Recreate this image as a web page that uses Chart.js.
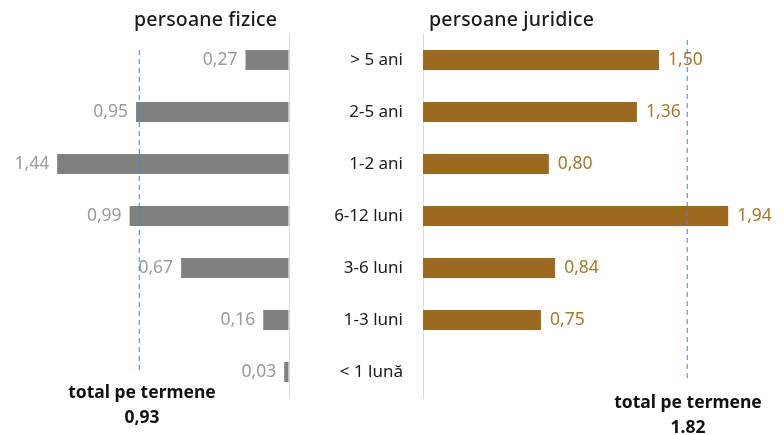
<!DOCTYPE html>
<html>
<head>
<meta charset="utf-8">
<script src="https://cdn.jsdelivr.net/npm/chart.js@4.4.3/dist/chart.umd.min.js"></script>
<style>
  html, body { margin: 0; padding: 0; background: #fff; }
  #wrap { position: relative; width: 784px; height: 435px; font-family: "Noto Sans", sans-serif; }
  #left { position: absolute; left: 0; top: 0; width: 290px; height: 435px; }
  #right { position: absolute; left: 290px; top: 0; width: 494px; height: 435px; }
  .t { position: absolute; color: #1a1a1a; white-space: nowrap; }
  .head { font-size: 19.5px; top: 5px; letter-spacing: 0.2px; font-weight: 500; }
  .tot { font-size: 17.5px; font-weight: bold; text-align: center; line-height: 25px; color: #111; }
</style>
</head>
<body>
<div id="wrap">
  <canvas id="left" width="290" height="435"></canvas>
  <canvas id="right" width="494" height="435"></canvas>
  <div class="t head" style="left:134px;">persoane fizice</div>
  <div class="t head" style="left:429px;">persoane juridice</div>
  <div class="t tot" style="left:57px; top:379px; width:170px;">total pe termene<br>0,93</div>
  <div class="t tot" style="left:603px; top:389px; width:170px;">total pe termene<br>1.82</div>
</div>
<script>
// ---------- date ----------
const categorii = ["> 5 ani", "2-5 ani", "1-2 ani", "6-12 luni", "3-6 luni", "1-3 luni", "< 1 lună"];
const fizice = [0.27, 0.95, 1.44, 0.99, 0.67, 0.16, 0.03];
const juridice = [1.50, 1.36, 0.80, 1.94, 0.84, 0.75, null];
const totalFizice = 0.93;
const pozitieTotalJuridice = 1.68; // unde apare linia punctată în grafic

const fmt = (v) => v.toFixed(2).replace(".", ",");
const FONT = "Noto Sans";

// etichete valori + linia punctată
function valoriPlugin(color, side, dashX, dashTop, dashBottom) {
  return {
    id: "valori" + side,
    afterDatasetsDraw(chart) {
      const { ctx, chartArea, scales } = chart;
      const meta = chart.getDatasetMeta(0);
      ctx.save();
      ctx.font = "17.5px '" + FONT + "'";
      ctx.fillStyle = color;
      ctx.textBaseline = "middle";
      meta.data.forEach((bar, i) => {
        const v = chart.data.datasets[0].data[i];
        if (v == null) return;
        if (side === "left") {
          ctx.textAlign = "right";
          ctx.fillText(fmt(v), bar.x - 8, bar.y);
        } else {
          ctx.textAlign = "left";
          ctx.fillText(fmt(v), bar.x + 9, bar.y);
        }
      });
      const x = scales.x.getPixelForValue(dashX);
      ctx.strokeStyle = "#4f80cc";
      ctx.lineWidth = 1;
      ctx.setLineDash([5, 4]);
      ctx.beginPath();
      ctx.moveTo(x, chartArea.top + dashTop);
      ctx.lineTo(x, chartArea.bottom - dashBottom);
      ctx.stroke();
      ctx.restore();
    },
  };
}

const axaGri = "#d9d9d9";

new Chart(document.getElementById("left"), {
  type: "bar",
  data: {
    labels: categorii,
    datasets: [{ data: fizice, backgroundColor: "#808080", barPercentage: 0.77, categoryPercentage: 0.5 }],
  },
  options: {
    indexAxis: "y",
    responsive: false,
    animation: false,
    layout: { padding: { top: 34, bottom: 37, left: 0, right: 1 } },
    plugins: { legend: { display: false }, tooltip: { enabled: false } },
    scales: {
      x: {
        reverse: true, min: 0, max: 289 / 161,
        ticks: { display: false },
        border: { display: false },
        grid: { drawTicks: false, color: (c) => (c.tick && c.tick.value === 0 ? axaGri : "transparent") },
        afterFit: (s) => { s.height = 0; },
      },
      y: { display: false },
    },
  },
  plugins: [valoriPlugin("#9a9a9a", "left", totalFizice, 16, 28)],
});

new Chart(document.getElementById("right"), {
  type: "bar",
  data: {
    labels: categorii,
    datasets: [{ data: juridice, backgroundColor: "#9b6a1f", barPercentage: 0.77, categoryPercentage: 0.5 }],
  },
  options: {
    indexAxis: "y",
    responsive: false,
    animation: false,
    layout: { padding: { top: 34, bottom: 37, left: 0, right: 15 } },
    plugins: { legend: { display: false }, tooltip: { enabled: false } },
    scales: {
      x: {
        min: 0, max: 346 / 157.3,
        ticks: { display: false },
        border: { display: false },
        grid: { display: false, drawTicks: false },
        afterFit: (s) => { s.height = 0; },
      },
      y: {
        ticks: { color: "#1a1a1a", font: { family: FONT, size: 17 }, padding: 12 },
        grid: { display: false },
        border: { display: true, color: axaGri },
        afterFit: (s) => { s.width = 133; },
      },
    },
  },
  plugins: [valoriPlugin("#a8782c", "right", pozitieTotalJuridice, 6, 20)],
});
</script>
</body>
</html>
